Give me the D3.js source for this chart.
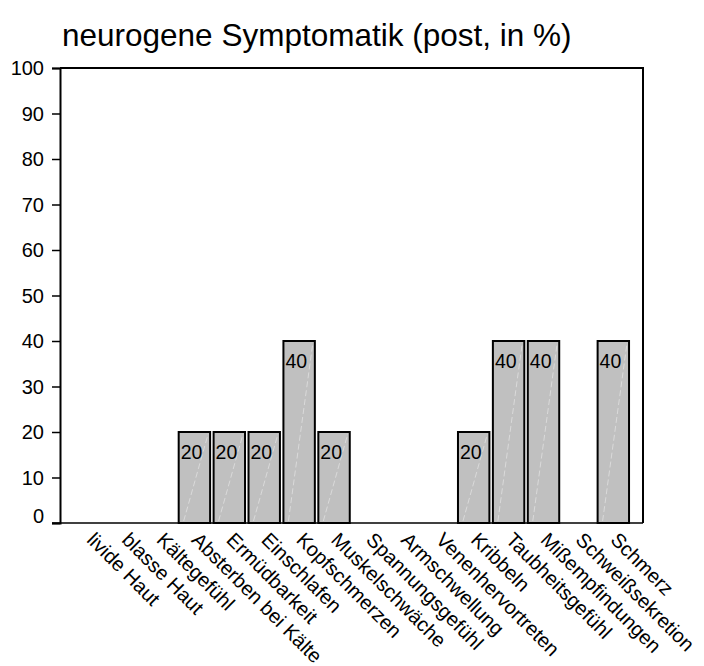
<!DOCTYPE html>
<html><head><meta charset="utf-8">
<script src="https://cdn.jsdelivr.net/npm/d3@7"></script>
<style>body{margin:0;background:#fff}svg{display:block}text{font-family:"Liberation Sans",Arial,sans-serif;fill:#000}</style>
</head><body>
<script>
const categories = ["livide Haut","blasse Haut","Kältegefühl","Absterben bei Kälte","Ermüdbarkeit","Einschlafen","Kopfschmerzen","Muskelschwäche","Spannungsgefühl","Armschwellung","Venenhervortreten","Kribbeln","Taubheitsgefühl","Mißempfindungen","Schweißsekretion","Schmerz"];
const values = [0,0,0,20,20,20,40,20,0,0,0,20,40,40,0,40];
const yTicks = [0,10,20,30,40,50,60,70,80,90,100];
const title = "neurogene Symptomatik (post, in %)";

const W = 704, H = 666;
const L = 60, R = 643, T = 68, B = 523;
const svg = d3.select("body").append("svg").attr("width", W).attr("height", H);

const x = d3.scaleBand().domain(categories).range([L, R]).paddingInner(0.1).paddingOuter(0.4);
const y = d3.scaleLinear().domain([0, 100]).range([B, T]);

svg.append("text").attr("x", 62).attr("y", 46).attr("font-size", 31.5).text(title);

// frame top/right
svg.append("path").attr("d", `M${L},${T}H${R}V${B}`).attr("fill", "none").attr("stroke", "#000").attr("stroke-width", 2);

// y axis
const yAxis = svg.append("g").attr("transform", `translate(${L},0)`)
  .call(d3.axisLeft(y).tickValues(yTicks).tickSize(8).tickPadding(8));
yAxis.select(".domain").attr("stroke-width", 2);
yAxis.selectAll(".tick line").attr("stroke-width", 1.5);
yAxis.selectAll(".tick text").attr("font-size", 20).attr("font-family", "Liberation Sans, Arial, sans-serif")
  .attr("dy", d => d === 0 ? "-0.05em" : "0.34em");

// baseline
svg.append("line").attr("x1", L - 8).attr("x2", R).attr("y1", B).attr("y2", B).attr("stroke", "#000").attr("stroke-width", 1.5);

// bars
const g = svg.append("g");
categories.forEach((c, i) => {
  const v = values[i];
  const x0 = x(c), w = x.bandwidth();
  g.append("rect").attr("x", x0).attr("y", y(v)).attr("width", w).attr("height", B - y(v))
    .attr("fill", "#c0c0c0").attr("stroke", "#000").attr("stroke-width", v === 0 ? 2.5 : 2);
  if (v > 0) {
    g.append("line").attr("x1", x0 + 5).attr("y1", B - 2).attr("x2", x0 + w - 2).attr("y2", y(v) + 2)
      .attr("stroke", "#dadada").attr("stroke-width", 1).attr("stroke-dasharray", "6,3");
    g.append("text").attr("x", x0 + 2).attr("y", y(v) + 27).attr("font-size", 19.5).text(v);
  }
});

// x labels
categories.forEach(c => {
  const cx = x(c) + x.bandwidth() / 2;
  svg.append("text").attr("transform", `translate(${cx + 1},${B + 13}) rotate(45)`)
    .attr("font-size", 20).attr("text-anchor", "start").attr("dy", "0.35em").text(c);
});
</script>
</body></html>
